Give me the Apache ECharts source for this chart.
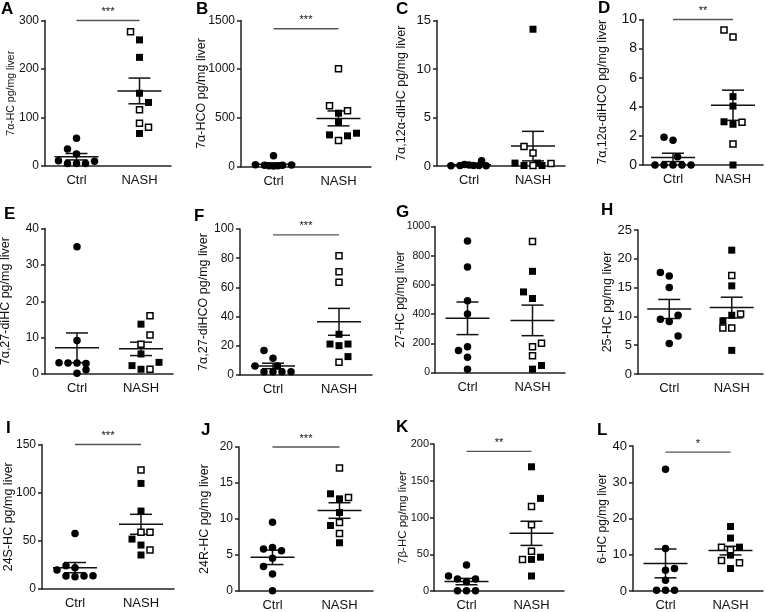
<!DOCTYPE html>
<html><head><meta charset="utf-8">
<script src="https://cdn.jsdelivr.net/npm/echarts@6/dist/echarts.min.js"></script>
<style>html,body{margin:0;padding:0;background:#fff}#c{width:766px;height:612px}</style>
</head><body><div id="c"></div>
<script>
// ---------- DATA ----------
const groups = ['Ctrl', 'NASH'];
const panelLetters = ['A','B','C','D','E','F','G','H','I','J','K','L'];
const yNames = [
  '7α-HC pg/mg liver', '7α-HCO pg/mg liver', '7α,12α-diHC pg/mg liver', '7α,12α-diHCO pg/mg liver',
  '7α,27-diHC pg/mg liver', '7α,27-diHCO pg/mg liver', '27-HC pg/mg liver', '25-HC pg/mg liver',
  '24S-HC pg/mg liver', '24R-HC pg/mg liver', '7β-HC pg/mg liver', '6-HC pg/mg liver'
];
const yMax  = [300, 1500, 15, 10, 40, 100, 1000, 25, 150, 20, 200, 40];
const yStep = [100, 500, 5, 2, 10, 20, 200, 5, 50, 5, 50, 10];

// Ctrl (filled circles)
const ctrlValues = [
  [57, 35, 25, 11, 5, 5, 5, 10],
  [110, 18, 12, 8, 5, 8, 12, 15],
  [0.02, 0.05, 0.15, 0.1, 0.05, 0.05, 0.55, 0.02],
  [1.9, 1.7, 0.57, 0, 0, 0, 0, 0],
  [35, 9.2, 3.1, 3, 3, 2.9, 1.2, 0.2],
  [16.7, 11.4, 6.2, 6.2, 2.3, 2.3, 2.3, 2.3],
  [900, 723, 491, 400, 150, 177, 105, 23],
  [17.6, 17.0, 15.0, 9.5, 9.1, 10.2, 6.6, 5.3],
  [57.7, 24.2, 22.1, 19.7, 13.5, 12.8, 13.5, 13.8],
  [9.56, 5.85, 6.03, 5.6, 4.55, 3.39, 2.37, 0.05],
  [35.4, 20.4, 16.3, 12.7, 16.3, 0.5, 0.5, 0.5],
  [33.6, 11.7, 5.75, 6.2, 3.0, 0.2, 0.2, 0.2]
];
// horizontal scatter slot of each Ctrl point (in marker widths)
const ctrlSlot = [
  [0, -1, 0, -2, -1, 0, 1, 2],
  [0, -2, -1, -0.5, 0, 0.5, 1, 2],
  [-2, -1, -0.5, 0, 0.5, 1.1, 1.4, 1.9],
  [-1, 0, 0.5, -2, -1, 0, 1, 2],
  [0, 0, -2, -1, 0, 1, 1, 0],
  [-1, 0, -2, 0.5, -1, 0, 1, 2],
  [0, 0, 0, 0, -1, 0, 0, 0],
  [-1, 0, 0, -1, 0, 1, 1, 0],
  [0, -1, 0, -2, -1, 0, 1, 2],
  [0, -1, 0, 1, 0, -1, 0, 0],
  [0, -2, -1, 0, 1, -1, 0, 1],
  [0, 0, 0, 1, 0, -1, 0, 1]
];
// NASH (squares; open = 1, filled = 0)
const nashValues = [
  [277, 260, 224, 150, 131, 116, 88, 80, 67],
  [1003, 623, 548, 572, 452, 325, 267, 315, 342],
  [14.1, 2.0, 1.35, 0.3, 0.05, 0.05, 0.3, 0.05, 0.25],
  [9.27, 8.8, 4.7, 4.05, 2.97, 2.8, 2.93, 1.44, 0],
  [16, 13.7, 10.7, 8.2, 5.5, 2.3, 1.3, 1.3, 3.2],
  [81.7, 70.8, 63.5, 27.9, 21.2, 20.1, 21.2, 12.6, 8.7],
  [898, 693, 552, 507, 177, 200, 114, 23, 48],
  [21.5, 17.1, 15.3, 10.2, 9.2, 10.4, 8.0, 8.0, 4.1],
  [123.4, 109.6, 80.9, 58.8, 58.8, 51.8, 45.6, 40.4, 35.3],
  [17.1, 13.5, 12.8, 13.0, 10.9, 9.5, 9.1, 8.0, 6.7],
  [169, 126, 115, 90, 54, 43, 43, 46, 20.4],
  [17.8, 14.6, 12.1, 11.4, 12.1, 9.9, 8.4, 7.8, 6.2]
];
const nashOpen = [
  [1, 0, 0, 0, 0, 1, 1, 1, 0],
  [1, 1, 0, 1, 0, 0, 1, 0, 0],
  [0, 1, 1, 0, 0, 1, 0, 0, 1],
  [1, 1, 0, 0, 0, 0, 1, 1, 0],
  [1, 0, 1, 1, 0, 0, 0, 1, 0],
  [1, 1, 1, 0, 0, 0, 0, 0, 1],
  [1, 0, 0, 0, 1, 1, 1, 0, 0],
  [0, 1, 0, 0, 0, 1, 1, 1, 0],
  [1, 0, 0, 1, 1, 0, 0, 1, 0],
  [1, 0, 0, 1, 0, 1, 0, 1, 0],
  [0, 0, 1, 1, 1, 1, 0, 0, 0],
  [0, 0, 1, 1, 0, 0, 1, 1, 0]
];
const nashSlot = [
  [-1, 0, 0, 0, 1, 0, 0, 1, 0],
  [0, -1, 0, 1, 0, -1, 0, 1, 2],
  [0, -1, 0, -2, -1, 0, 0.5, 1, 2],
  [-1, 0, 0, 0, -1, 0, 1, 0, 0],
  [1, 0, 1, 0, 0, -1, 0, 1, 2],
  [0, 0, 0, 0, -1, 0, 1, 1, 0],
  [0, 0, -1, 0, 0, 1, 0, 0, 1],
  [0, 0, 0, 0, -1, 1, -1, 0, 0],
  [0, 0, 0, 0, 1, -1, 0, 1, 0],
  [0, -1, 0, 1, 0, 0, -1, 0, 0],
  [0, 1, 0, 0, 0, -1, 0, 1, 0],
  [0, 0, -1, 0, 1, 0, -1, 1, 0]
];
// significance bars
const sigLevel = [300, 1415, null, 10, null, 96, null, null, 150, 20, 190, 38.3];
const sigLabel = ['***', '***', '', '**', '', '***', '', '', '***', '***', '**', '*'];

// ---------- LAYOUT ----------
const grids = [
  [45, 20.5, 126, 145.5], [241, 20.5, 130, 146], [437, 20.5, 128, 145.5], [643, 19.5, 120, 145.5],
  [45, 228.5, 128, 145.5], [240, 229, 132, 146], [435, 226.5, 130, 146], [638, 230, 127, 144],
  [42, 444.5, 132, 144.5], [239, 447, 134, 144], [434, 444, 130, 147], [633, 446, 130, 145.5]
];
// distance from the y axis line to the centre of the axis title
const nameCenters = [34, 39, 35, 40, 39, 36, 34, 30, 33, 34, 31, 30];
const nameSizes = [10.5, 12.5, 12.5, 12.5, 12.5, 12.5, 12, 12.5, 12.5, 12.5, 11.5, 12];
const tickSizes = [12, 12, 13, 14, 12, 12, 10.5, 13, 12, 12, 11, 13];
const tickMargins = [6, 6, 6, 6, 6, 6, 5, 6, 6, 6, 5, 6];
const letterPos = [[1,1],[196,1],[396,1],[598,0],[4,206],[194,208],[396,204],[601,202],[6,420],[201,422],[396,419],[597,422]];

const FONT = '"Liberation Sans", Arial, Helvetica, sans-serif';
const INK = '#111';

function meanSem(a) {
  const n = a.length, m = a.reduce((s, v) => s + v, 0) / n;
  const sd = Math.sqrt(a.reduce((s, v) => s + (v - m) * (v - m), 0) / (n - 1));
  return [m, sd / Math.sqrt(n)];
}

function renderMean(params, api) {
  const x = api.value(0), m = api.value(1), s = api.value(2);
  const c = api.coord([x, m]), t = api.coord([x, m + s]), b = api.coord([x, m - s]);
  const st = { stroke: INK, lineWidth: 1.5 };
  return { type: 'group', children: [
    { type: 'line', shape: { x1: c[0] - 22, y1: c[1], x2: c[0] + 22, y2: c[1] }, style: st },
    { type: 'line', shape: { x1: c[0] - 11, y1: t[1], x2: c[0] + 11, y2: t[1] }, style: st },
    { type: 'line', shape: { x1: c[0] - 11, y1: b[1], x2: c[0] + 11, y2: b[1] }, style: st },
    { type: 'line', shape: { x1: c[0], y1: t[1], x2: c[0], y2: b[1] }, style: st }
  ]};
}
function makeSigRenderer(label) {
  return function (params, api) {
    const a = api.coord([api.value(0), api.value(2)]), b = api.coord([api.value(1), api.value(2)]);
    return { type: 'group', children: [
      { type: 'line', shape: { x1: a[0], y1: a[1], x2: b[0], y2: b[1] }, style: { stroke: '#555', lineWidth: 1.3 } },
      { type: 'text', x: (a[0] + b[0]) / 2, y: a[1] - 3,
        style: { text: label, fill: INK, font: '11px ' + FONT, align: 'center', verticalAlign: 'bottom' } }
    ]};
  };
}

const grid = [], xAxis = [], yAxis = [], series = [], graphic = [];
const CX = 1, NX = 3;
for (let p = 0; p < 12; p++) {
  const [l, t, w, h] = grids[p];
  grid.push({ left: l, top: t, width: w, height: h });
  xAxis.push({
    gridIndex: p, type: 'value', min: 0, max: 4, interval: 1,
    axisLine: { lineStyle: { color: '#222', width: 1.5 } },
    axisTick: { show: false }, splitLine: { show: false },
    axisLabel: { margin: 8, fontSize: 13, fontFamily: FONT, color: INK,
      formatter: v => v === CX ? groups[0] : (v === NX ? groups[1] : '') }
  });
  yAxis.push({
    gridIndex: p, type: 'value', min: 0, max: yMax[p], interval: yStep[p],
    axisLine: { show: true, lineStyle: { color: '#222', width: 1.5 } },
    axisTick: { show: true, length: 4, lineStyle: { color: '#222', width: 1.5 } },
    splitLine: { show: false },
    axisLabel: { margin: tickMargins[p], fontSize: tickSizes[p], fontFamily: FONT, color: INK, formatter: v => String(v) }
  });
  const step = 9 / (w / 4);
  const [cm, cs] = meanSem(ctrlValues[p]);
  const [nm, ns] = meanSem(nashValues[p]);
  series.push({ type: 'custom', xAxisIndex: p, yAxisIndex: p, z: 2, clip: false,
    renderItem: renderMean, data: [[CX, cm, cs], [NX, nm, ns]], silent: true });
  series.push({ type: 'scatter', xAxisIndex: p, yAxisIndex: p, z: 3, symbol: 'circle', symbolSize: 7.5,
    itemStyle: { color: '#000', opacity: 1 },
    data: ctrlValues[p].map((v, i) => [CX + ctrlSlot[p][i] * step, v]) });
  series.push({ type: 'scatter', xAxisIndex: p, yAxisIndex: p, z: 3, symbol: 'rect', symbolSize: 7,
    itemStyle: { color: '#000', opacity: 1 },
    data: nashValues[p].map((v, i) => [NX + nashSlot[p][i] * step, v]).filter((d, i) => !nashOpen[p][i]) });
  series.push({ type: 'scatter', xAxisIndex: p, yAxisIndex: p, z: 4, symbol: 'rect', symbolSize: 6,
    itemStyle: { color: '#fff', borderColor: '#000', borderWidth: 1.5, opacity: 1 },
    data: nashValues[p].map((v, i) => [NX + nashSlot[p][i] * step, v]).filter((d, i) => nashOpen[p][i]) });
  if (sigLevel[p] !== null) {
    series.push({ type: 'custom', xAxisIndex: p, yAxisIndex: p, z: 2, clip: false, silent: true,
      renderItem: makeSigRenderer(sigLabel[p]), data: [[CX, NX, sigLevel[p]]] });
  }
  graphic.push({ type: 'text', left: letterPos[p][0], top: letterPos[p][1],
    style: { text: panelLetters[p], font: 'bold 17px ' + FONT, fill: '#000' } });
  // rotated axis title, centred on the plot height
  graphic.push({ type: 'text', x: l - nameCenters[p], y: t + h / 2, rotation: Math.PI / 2,
    style: { text: yNames[p], font: nameSizes[p] + 'px ' + FONT, fill: INK, align: 'center', verticalAlign: 'middle' } });
}

const chart = echarts.init(document.getElementById('c'), null, { renderer: 'canvas' });
chart.setOption({ animation: false, backgroundColor: '#fff', grid, xAxis, yAxis, series, graphic,
  tooltip: { show: false } });
</script>
</body></html>
